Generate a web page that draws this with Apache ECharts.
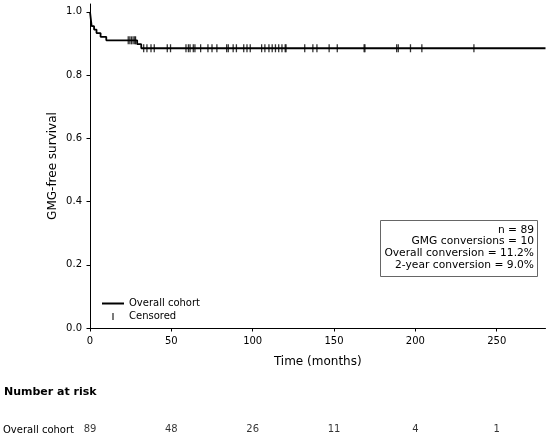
<!DOCTYPE html>
<html>
<head>
<meta charset="utf-8">
<script src="https://cdn.jsdelivr.net/npm/echarts@6/dist/echarts.min.js"></script>
<style>
  html, body { margin: 0; padding: 0; background: #fff; }
  #main { width: 550px; height: 437px; }
</style>
</head>
<body>
<div id="main"></div>
<script>
var myChart = echarts.init(document.getElementById('main'));

// Kaplan-Meier steps
var stepTimes = [0, 1, 2.5, 4, 6.5, 10, 29, 31.5, 280];
var survival = [1, 0.955, 0.944, 0.933, 0.921, 0.910, 0.898, 0.885, 0.885];

// censored observations (months)
var censorTimes = [23.5, 24.5, 25.5, 26.5, 27.5, 28, 33, 35, 37.5, 39.5, 47.5, 49.5,
    59, 60.5, 61.5, 63.5, 64.5, 68, 72.5, 75, 78, 84, 85, 88, 90, 94.5, 96.5, 98.5,
    105.5, 107.5, 110, 112, 114, 116, 118, 120, 120.5, 132, 137, 139.5, 147, 152,
    168.5, 169, 188.5, 189.5, 197, 204, 236];

// number at risk table
var riskTimes = [0, 50, 100, 150, 200, 250];
var riskCounts = [89, 48, 26, 11, 4, 1];

var xTicks = [0, 50, 100, 150, 200, 250];
var yTicks = [0, 0.2, 0.4, 0.6, 0.8, 1.0];

var statsLines = ['n = 89', 'GMG conversions = 10', 'Overall conversion = 11.2%', '2-year conversion = 9.0%'];

function survAt(t) {
    var s = survival[0];
    for (var i = 0; i < stepTimes.length; i++) {
        if (stepTimes[i] <= t) s = survival[i];
    }
    return s;
}

var curveData = stepTimes.map(function (t, i) { return [t, survival[i]]; });
var censorData = censorTimes.map(function (t) { return [t, survAt(t)]; });
var riskData = riskTimes.map(function (t, i) { return [t, 0.5, riskCounts[i]]; });

var font = 'DejaVu Sans';

// stats box: frame + right aligned lines
var statsGraphic = [{
    type: 'rect',
    shape: { x: 380.5, y: 220.5, width: 157, height: 56 },
    style: { fill: '#fff', stroke: '#666', lineWidth: 1 },
    z: 10
}];
statsLines.forEach(function (line, i) {
    statsGraphic.push({
        type: 'text',
        style: {
            text: line, x: 534, y: 230 + i * 11.7,
            align: 'right', verticalAlign: 'middle',
            font: '10.7px "DejaVu Sans"', fill: '#000'
        },
        z: 11
    });
});

var option = {
    backgroundColor: '#fff',
    animation: false,
    textStyle: { fontFamily: font },
    grid: [
        { left: 90, right: 4.5, top: 4, bottom: 109 },
        { left: 90, right: 4.5, top: 421, height: 20 }
    ],
    legend: {
        left: 97,
        top: 292,
        orient: 'vertical',
        itemWidth: 22,
        itemHeight: 7,
        itemGap: 0,
        textStyle: { fontFamily: font, fontSize: 10, color: '#000', lineHeight: 13 },
        data: [
            { name: 'Overall cohort', icon: 'path://M0,0 L22,0 L22,2 L0,2 Z' },
            { name: 'Censored', icon: 'path://M0,0 L1.3,0 L1.3,7 L0,7 Z' }
        ]
    },
    xAxis: [{
        type: 'value',
        min: 0,
        max: 280,
        name: 'Time (months)',
        nameLocation: 'middle',
        nameGap: 28,
        nameMoveOverlap: false,
        nameTextStyle: { fontFamily: font, fontSize: 12, color: '#000' },
        splitLine: { show: false },
        axisLine: { lineStyle: { color: '#000', width: 1 } },
        axisTick: { show: true, length: 3.5, lineStyle: { color: '#000' }, customValues: xTicks },
        axisLabel: { fontFamily: font, fontSize: 10, color: '#000', margin: 8, customValues: xTicks }
    }, {
        type: 'value',
        gridIndex: 1,
        min: 0,
        max: 280,
        show: false
    }],
    yAxis: [{
        type: 'value',
        min: 0,
        max: 1.025,
        name: 'GMG-free survival',
        nameLocation: 'middle',
        nameGap: 31,
        nameMoveOverlap: false,
        nameTextStyle: { fontFamily: font, fontSize: 12, color: '#000' },
        splitLine: { show: false },
        axisLine: { show: true, lineStyle: { color: '#000', width: 1 } },
        axisTick: { show: true, length: 3.5, lineStyle: { color: '#000' }, customValues: yTicks },
        axisLabel: {
            fontFamily: font, fontSize: 10, color: '#000', margin: 8, customValues: yTicks,
            formatter: function (v) { return v.toFixed(1); }
        }
    }, {
        type: 'value',
        gridIndex: 1,
        min: 0,
        max: 1,
        show: false
    }],
    graphic: [
        {
            type: 'text',
            left: 4,
            top: 387,
            style: { text: 'Number at risk', font: 'bold 11px "DejaVu Sans"', fill: '#000' }
        },
        {
            type: 'text',
            left: 3,
            top: 425,
            style: { text: 'Overall cohort', font: '10px "DejaVu Sans"', fill: '#000' }
        }
    ].concat(statsGraphic),
    series: [
        {
            name: 'Overall cohort',
            type: 'line',
            step: 'end',
            data: curveData,
            showSymbol: false,
            symbol: 'none',
            itemStyle: { color: '#000' },
            lineStyle: { color: '#000', width: 1.8 },
            z: 3
        },
        {
            name: 'Censored',
            type: 'scatter',
            data: censorData,
            symbol: 'rect',
            symbolSize: [1.3, 8],
            itemStyle: { color: '#000' },
            z: 4
        },
        {
            name: 'risk',
            type: 'scatter',
            xAxisIndex: 1,
            yAxisIndex: 1,
            data: riskData,
            symbolSize: 1,
            itemStyle: { color: 'transparent' },
            label: {
                show: true,
                position: 'inside',
                fontFamily: font,
                fontSize: 10,
                color: '#000',
                formatter: function (p) { return String(p.value[2]); }
            }
        }
    ]
};
myChart.setOption(option);
</script>
</body>
</html>
